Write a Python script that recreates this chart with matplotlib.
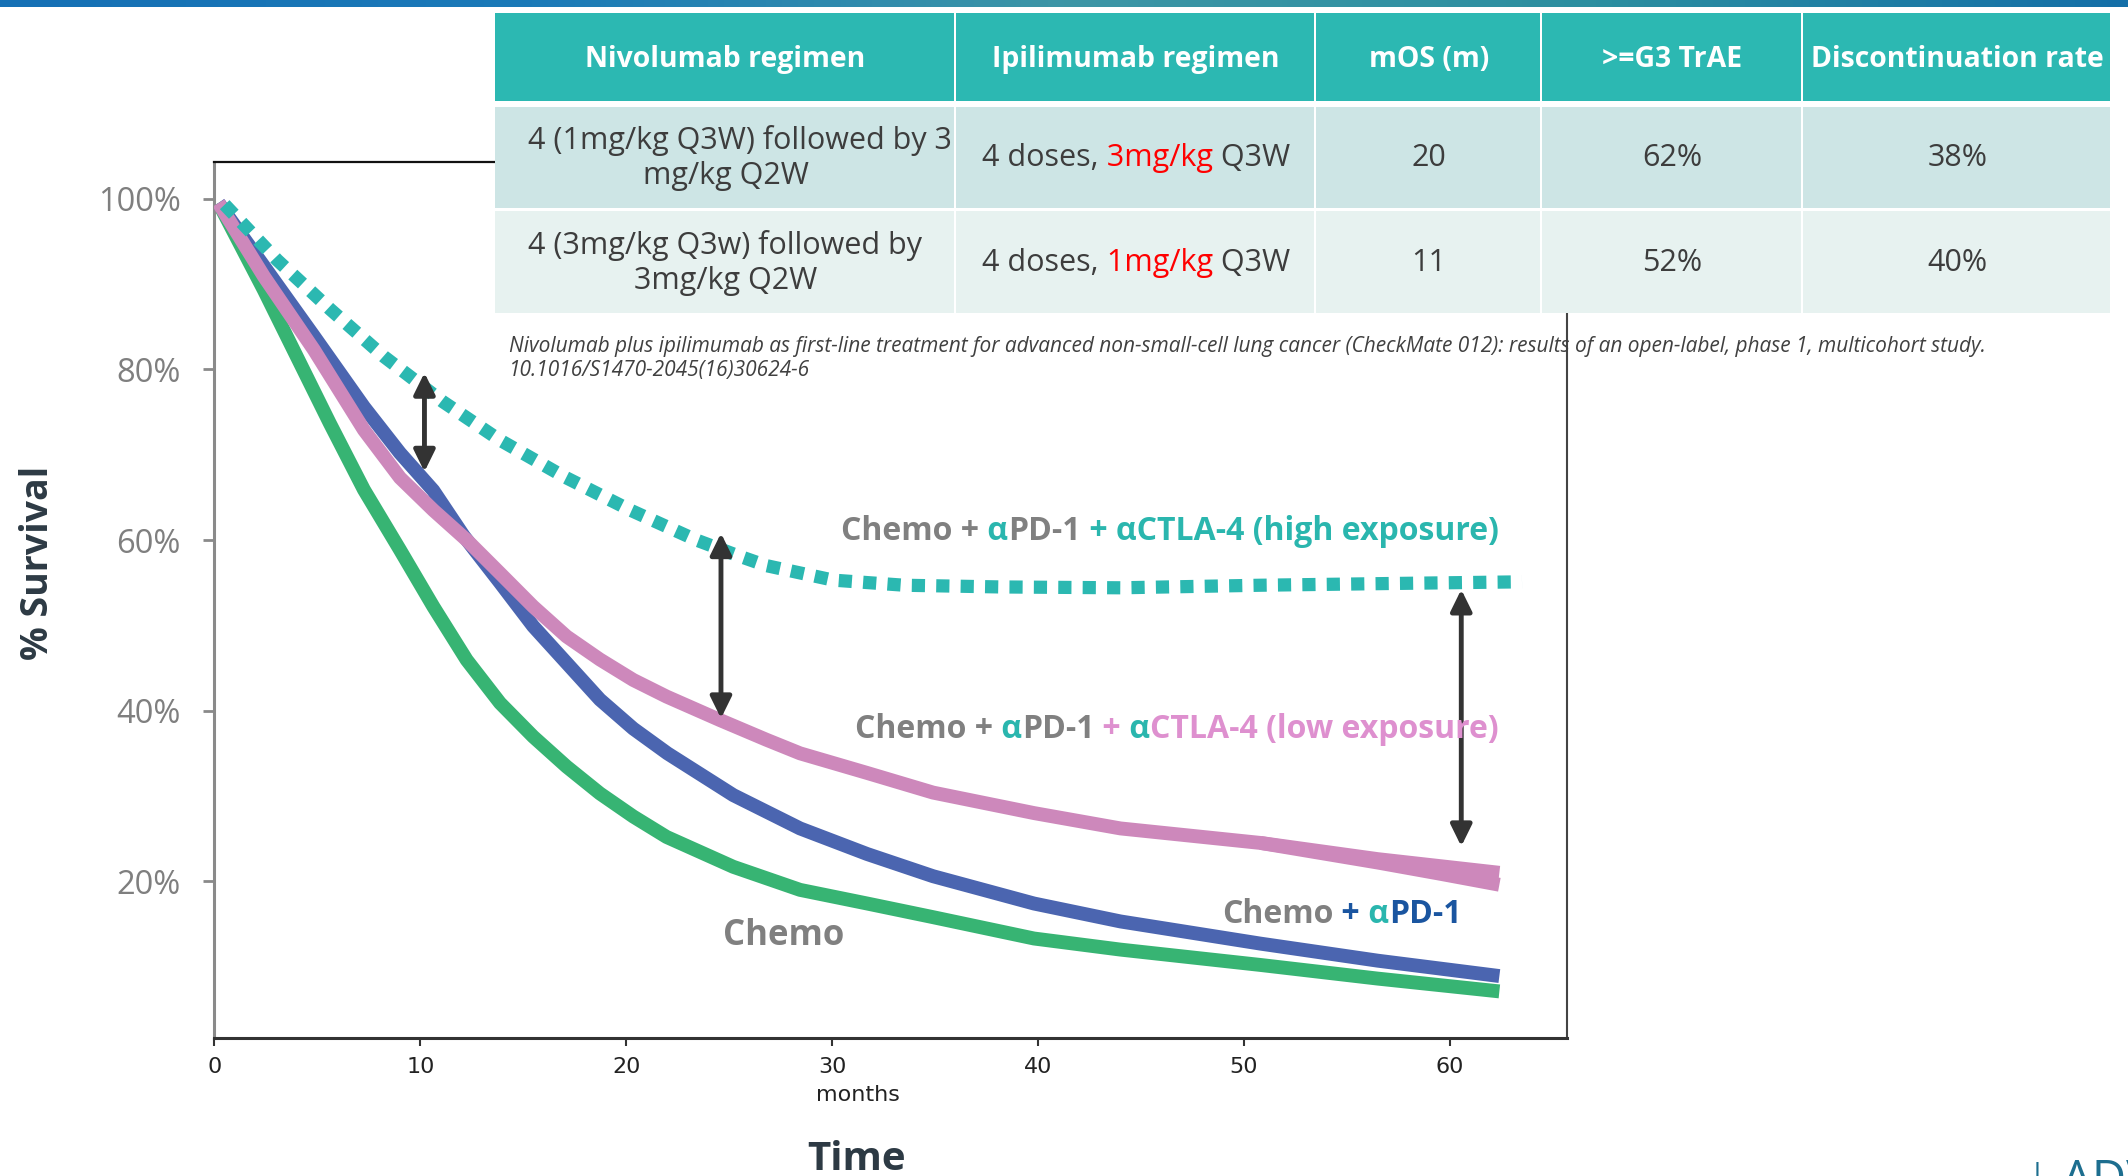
import numpy as np
import matplotlib
matplotlib.use('Agg')
import matplotlib.pyplot as plt
from matplotlib.patches import Rectangle
from matplotlib.transforms import offset_copy
from matplotlib.colors import LinearSegmentedColormap

W, H, DPI = 2128, 1176, 100

# survival (%) vs months
chemo_m = [0.2, 2.4, 4.0, 5.6, 7.26, 9.01, 10.63, 12.25, 13.87, 15.48, 17.1, 18.72, 20.34, 21.96,
           25.2, 28.44, 31.7, 34.9, 39.8, 44.0, 50.8, 56.5, 62.4]
chemo_s = [99.5, 89.3, 81.5, 73.7, 65.9, 58.85, 52.2, 45.95, 40.9, 36.96, 33.45, 30.3, 27.6, 25.2,
           21.7, 19.0, 17.4, 15.8, 13.3, 12.0, 10.2, 8.6, 7.1]

pd1_m = [0.2, 2.4, 4.83, 7.26, 9.01, 10.63, 12.1, 13.87, 15.48, 17.1, 18.72, 20.34, 22.0, 25.2,
         28.44, 31.7, 34.9, 39.8, 44.0, 50.8, 56.5, 62.4]
pd1_s = [99.5, 92.1, 83.9, 75.6, 70.2, 65.8, 60.5, 55.0, 49.9, 45.6, 41.3, 37.9, 35.0, 30.1,
         26.2, 23.2, 20.6, 17.4, 15.3, 12.7, 10.7, 8.9]

low_m = [0.2, 2.4, 4.83, 7.26, 9.01, 10.63, 12.25, 13.87, 15.48, 17.1, 18.72, 20.34, 21.96, 24.55,
         26.8, 28.44, 31.7, 34.9, 39.8, 44.0, 50.8, 56.5, 62.4]
low_s = [99.5, 90.9, 82.3, 72.9, 67.3, 63.5, 60.0, 56.1, 52.2, 48.7, 46.0, 43.6, 41.65, 38.9,
         36.6, 35.0, 32.7, 30.4, 28.0, 26.2, 24.5, 22.6, 21.0]
# the low-exposure band fans out over its last months
low_tail_m = [50.8, 56.5, 59.5, 62.4]
low_tail_s = [24.5, 22.2, 20.9, 19.6]

high_m = [0.5, 3.05, 5.64, 8.23, 11.1, 13.87, 17.0, 20.2, 23.4, 25.5, 26.8, 30.05, 33.5, 38.15,
          44.0, 50.8, 57.0, 63.5]
high_s = [99.3, 92.8, 87.0, 81.5, 76.2, 71.7, 67.4, 63.5, 60.0, 58.1, 57.0, 55.3, 54.7, 54.5,
          54.4, 54.7, 54.9, 55.1]

# double arrows showing the gaps
arrow_m = [10.2, 24.6, 60.55]
arrow_top = [79.6, 60.8, 54.2]
arrow_bot = [68.0, 39.1, 24.1]

xticks = [0, 10, 20, 30, 40, 50, 60]
yticks = [20, 40, 60, 80, 100]
ytick_labels = ['20%', '40%', '60%', '80%', '100%']

# CheckMate 012 table
header = ['Nivolumab regimen', 'Ipilimumab regimen', 'mOS (m)', '>=G3 TrAE', 'Discontinuation rate']
nivo_regimen = [['4 (1mg/kg Q3W) followed by 3', 'mg/kg Q2W'],
                ['4 (3mg/kg Q3w) followed by', '3mg/kg Q2W']]
ipi_dose = ['3mg/kg', '1mg/kg']
mos = ['20', '11']
trae = ['62%', '52%']
discont = ['38%', '40%']
caption = ['Nivolumab plus ipilimumab as first-line treatment for advanced non-small-cell lung cancer '
           '(CheckMate 012): results of an open-label, phase 1, multicohort study.',
           '10.1016/S1470-2045(16)30624-6']

GREEN, BLUE, PINK, TEAL = '#37b473', '#4b65b0', '#cd88bb', '#2bb8b1'
GRAY_T, TEAL_T, PINK_T, BLUE_T = '#808080', '#2ab6ae', '#de90cf', '#1a55a0'
FONT = 'Open Sans'

fig = plt.figure(figsize=(W / DPI, H / DPI), dpi=DPI)
fig.patch.set_facecolor('white')
rend = fig.canvas.get_renderer()

# thin banner at the very top
band = fig.add_axes([0, 1 - 7 / H, 1, 7 / H])
cmap = LinearSegmentedColormap.from_list('band', ['#1570b5', '#1b7ab8', '#3d96a6', '#2c8fa0', '#146fa8'])
band.imshow(np.linspace(0, 1, 400)[None, :], aspect='auto', cmap=cmap)
band.axis('off')

ax = fig.add_axes([214 / W, 1 - 1038 / H, (1566.7 - 214) / W, (1038 - 162) / H])
ax.plot(chemo_m, chemo_s, color=GREEN, lw=10, solid_capstyle='butt', solid_joinstyle='round', zorder=2)
ax.plot(pd1_m, pd1_s, color=BLUE, lw=10, solid_capstyle='butt', solid_joinstyle='round', zorder=3)
ax.plot(low_m, low_s, color=PINK, lw=10, solid_capstyle='butt', solid_joinstyle='round', zorder=4)
ax.plot(low_tail_m, low_tail_s, color=PINK, lw=10, solid_capstyle='butt', solid_joinstyle='round', zorder=4)
ax.plot(high_m, high_s, color=TEAL, lw=9.5, linestyle=(0, (1, 0.85)), dash_capstyle='butt', zorder=5)

for m, t, b in zip(arrow_m, arrow_top, arrow_bot):
    ax.annotate('', xy=(m, t), xytext=(m, b),
                arrowprops=dict(arrowstyle='<|-|>,head_length=0.65,head_width=0.32', color='#333333',
                                lw=3.5, mutation_scale=20, shrinkA=0, shrinkB=0), zorder=6)

ax.set_xlim(-0.02, 65.67)
ax.set_ylim(1.64, 104.3)
ax.set_xticks(xticks)
ax.set_yticks(yticks)
ax.set_yticklabels(ytick_labels)
ax.tick_params(axis='x', length=6, width=1.5, color='#333333', pad=8, labelsize=16, labelcolor='#222222')
ax.tick_params(axis='y', length=8, width=2, color='#8a8a8a', pad=16, labelsize=23.5, labelcolor='#7f7f7f')
for lab in ax.get_yticklabels():
    lab.set_fontfamily(FONT)
ax.spines['left'].set_color('#8a8a8a')
ax.spines['left'].set_linewidth(2.2)
ax.spines['bottom'].set_color('#333333')
ax.spines['bottom'].set_linewidth(2.2)
ax.spines['top'].set_color('#111111')
ax.spines['top'].set_linewidth(1.6)
ax.spines['right'].set_color('#444444')
ax.spines['right'].set_linewidth(1.5)
ax.set_xlabel('months', fontsize=16, color='#222222')
ax.xaxis.set_label_coords(0.476, -0.0537)


def label_pieces(x, y, pieces, size):
    off = 0
    for s, c in pieces:
        tr = offset_copy(ax.transData, fig=fig, x=off, y=0, units='dots')
        t = ax.text(x, y, s, color=c, fontsize=size, fontweight='bold', fontfamily=FONT,
                    transform=tr, ha='left', va='baseline', zorder=7)
        off += t.get_window_extent(rend).width


label_pieces(30.43, 60.0, [('Chemo +', GRAY_T), (' α', TEAL_T), ('PD-1', GRAY_T),
                           (' + αCTLA-4 (high exposure)', TEAL_T)], 23)
label_pieces(31.1, 36.8, [('Chemo +', GRAY_T), (' α', TEAL_T), ('PD-1', GRAY_T), (' +', PINK_T),
                          (' α', TEAL_T), ('CTLA-4 (low exposure)', PINK_T)], 23)
label_pieces(48.93, 15.15, [('Chemo', GRAY_T), (' +', BLUE_T), (' α', TEAL_T), ('PD-1', BLUE_T)], 23)
label_pieces(24.69, 12.55, [('Chemo', GRAY_T)], 25)


def fig_pieces(xc, yb, pieces, **kw):
    texts = [fig.text(0, 1 - yb / H, s, color=c, ha='left', va='baseline', **kw) for s, c in pieces]
    widths = [t.get_window_extent(rend).width for t in texts]
    x = xc - sum(widths) / 2
    for t, w in zip(texts, widths):
        t.set_x(x / W)
        x += w


# table
col_edges = [495, 956, 1316, 1542, 1803, 2112]
row_edges = [(13, 101), (107, 208), (211, 313)]
fills = ['#2cb8b2', '#cde5e5', '#e7f2f0']
fig.add_artist(Rectangle((col_edges[0] / W, 1 - 313 / H), (col_edges[-1] - col_edges[0]) / W, 300 / H,
                         transform=fig.transFigure, fc='white', ec='none', zorder=1.9))
for (y0, y1), fc in zip(row_edges, fills):
    for x0, x1 in zip(col_edges[:-1], col_edges[1:]):
        fig.add_artist(Rectangle((x0 / W, 1 - y1 / H), (x1 - x0 - 2) / W, (y1 - y0) / H,
                                 transform=fig.transFigure, fc=fc, ec='none', zorder=2))

centers = [(a + b) / 2 for a, b in zip(col_edges[:-1], col_edges[1:])]
for xc, s in zip(centers, header):
    fig.text(xc / W, 1 - 67 / H, s, ha='center', va='baseline', color='white',
             fontsize=20.4, fontweight='bold', fontfamily=FONT, zorder=3)

body = dict(fontsize=22, fontfamily=FONT, zorder=3)
row_base = [166, 271]
for i in range(2):
    first, second = nivo_regimen[i]
    fig.text(528 / W, 1 - (row_base[i] - 17) / H, first, ha='left', va='baseline',
             color='#3d3d3d', **body)
    fig.text(centers[0] / W, 1 - (row_base[i] + 18) / H, second, ha='center', va='baseline',
             color='#3d3d3d', **body)
    fig_pieces(centers[1], row_base[i], [('4 doses,', '#3d3d3d'), (' ' + ipi_dose[i], '#ff0000'),
                                         (' Q3W', '#3d3d3d')], **body)
    for j, col in zip([2, 3, 4], [mos, trae, discont]):
        fig.text(centers[j] / W, 1 - row_base[i] / H, col[i], ha='center', va='baseline',
                 color='#3d3d3d', **body)

for k, line in enumerate(caption):
    fig.text(509 / W, 1 - (352 + 24 * k) / H, line, ha='left', va='baseline', color='#404040',
             fontsize=15, fontstyle='italic', fontfamily=FONT, zorder=3)

fig.text(857 / W, 1 - 1170 / H, 'Time', ha='center', va='baseline', color='#2d3a44',
         fontsize=29, fontweight='bold', fontfamily=FONT)
fig.text(38 / W, 1 - 563 / H, '% Survival', ha='center', va='center', rotation=90, color='#2d3a44',
         fontsize=27, fontweight='bold', fontfamily=FONT)

# logo at the bottom-right edge, cut by the frame as in the slide
fig.text(2029 / W, 1 - 1162 / H, '|', ha='left', va='top', color='#1d6e8f', fontsize=22, fontfamily=FONT)
fig.text(2062 / W, 1 - 1194 / H, 'ADV', ha='left', va='baseline', color='#1d6e8f', fontsize=34, fontfamily=FONT)

fig.savefig('out.png', dpi=DPI, facecolor='white')
